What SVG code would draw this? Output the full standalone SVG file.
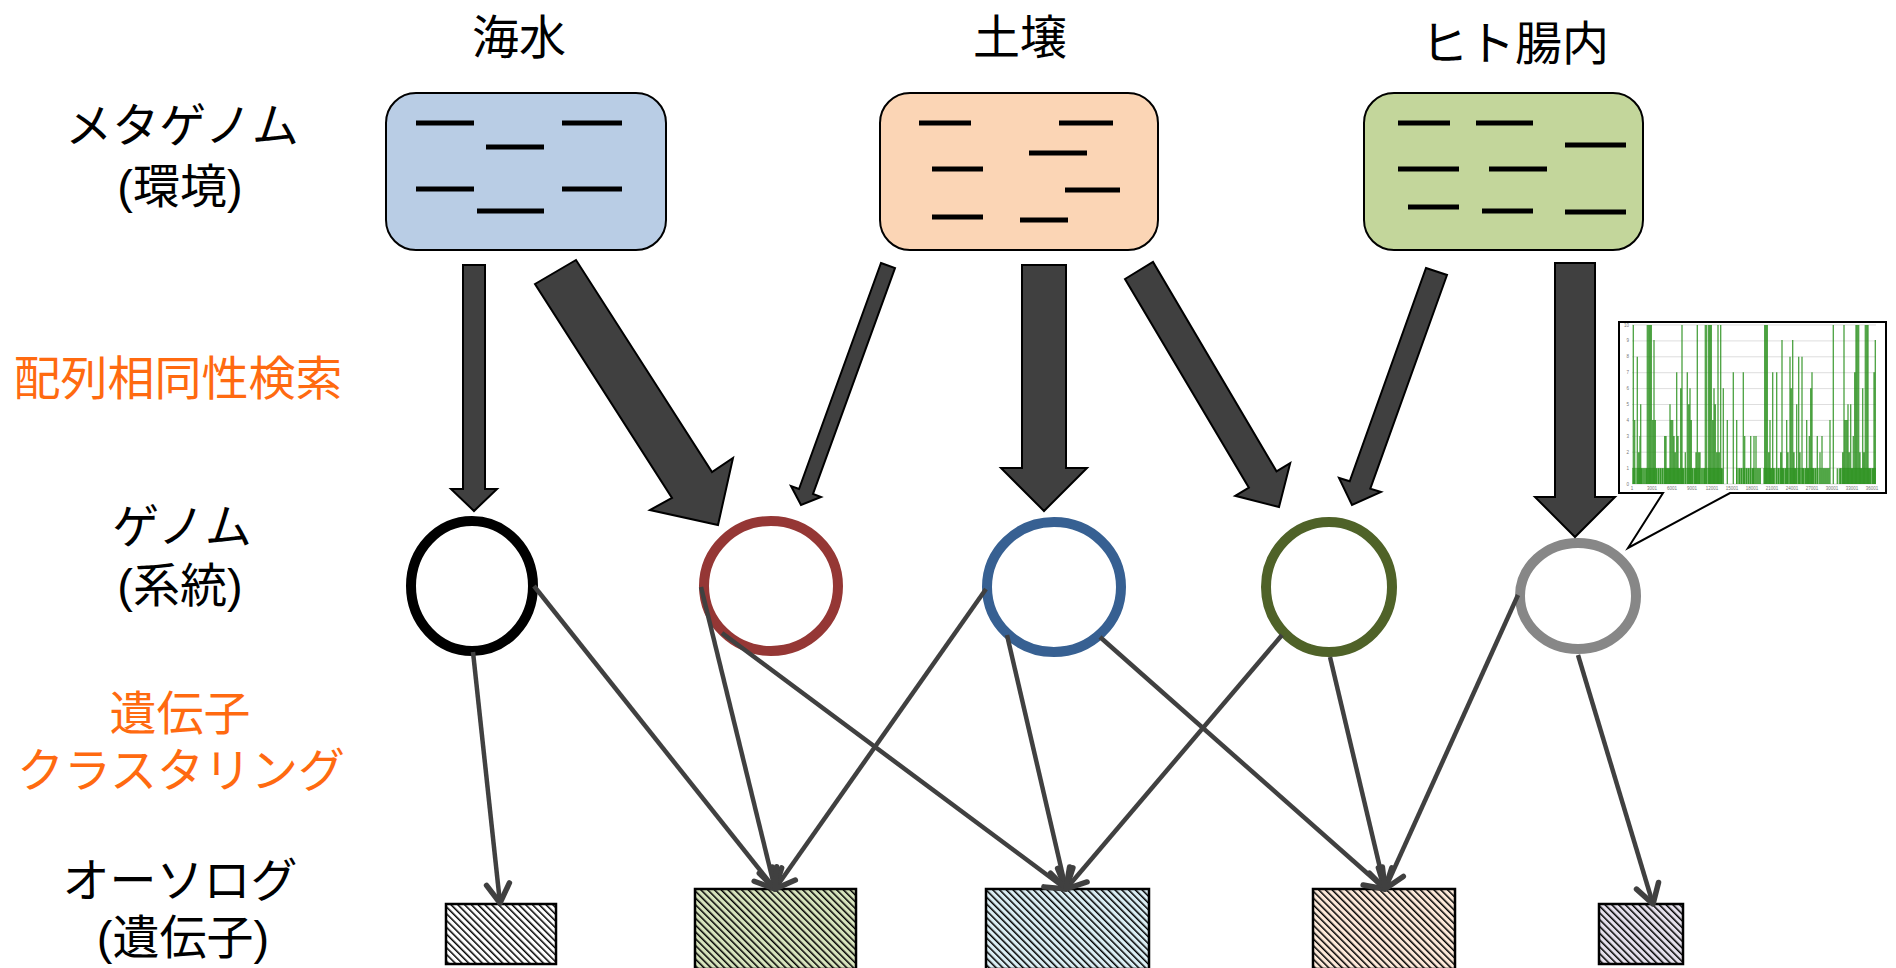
<svg xmlns="http://www.w3.org/2000/svg" width="1896" height="968" viewBox="0 0 1896 968">
  <style>
    .lbl { font-family: "Liberation Sans", "Noto Sans CJK JP", sans-serif; font-size: 47px; fill: #000; text-anchor: middle; }
    .step { fill: #ff6a10; }
    .env { stroke: #000; stroke-width: 2; }
    .seq { stroke: #000; stroke-width: 5; }
    .genome { fill: #fff; stroke-width: 10; }
    .block { fill: #404040; stroke: #000; stroke-width: 2; stroke-linejoin: miter; }
    .link { fill: none; stroke: #404040; stroke-width: 4.5; marker-end: url(#head); }
    .og { stroke: #000; stroke-width: 2.5; }
    .grid { stroke: #d0d0d0; stroke-width: 0.7; }
    .tick { font-family: "Liberation Sans", sans-serif; font-size: 4.5px; fill: #777; }
  </style>
  <defs>
    <marker id="head" markerUnits="userSpaceOnUse" viewBox="-24 -15 28 30" markerWidth="28" markerHeight="30" refX="0" refY="0" orient="auto">
      <path d="M-19,-11.5 L0,0 L-19,11.5" fill="none" stroke="#404040" stroke-width="5.5" stroke-linecap="round" stroke-linejoin="round"/>
    </marker>
    <!-- diagonal hatch fills for ortholog boxes -->
    <pattern id="h-white" patternUnits="userSpaceOnUse" width="4.8" height="4.8" patternTransform="rotate(-45)">
      <rect width="4.8" height="4.8" fill="#ffffff"/><rect width="1.5" height="4.8" fill="#000"/>
    </pattern>
    <pattern id="h-green" patternUnits="userSpaceOnUse" width="4.8" height="4.8" patternTransform="rotate(-45)">
      <rect width="4.8" height="4.8" fill="#d7e4bd"/><rect width="1.5" height="4.8" fill="#000"/>
    </pattern>
    <pattern id="h-blue" patternUnits="userSpaceOnUse" width="4.8" height="4.8" patternTransform="rotate(-45)">
      <rect width="4.8" height="4.8" fill="#dbeef4"/><rect width="1.5" height="4.8" fill="#000"/>
    </pattern>
    <pattern id="h-peach" patternUnits="userSpaceOnUse" width="4.8" height="4.8" patternTransform="rotate(-45)">
      <rect width="4.8" height="4.8" fill="#fde9d9"/><rect width="1.5" height="4.8" fill="#000"/>
    </pattern>
    <pattern id="h-lav" patternUnits="userSpaceOnUse" width="4.8" height="4.8" patternTransform="rotate(-45)">
      <rect width="4.8" height="4.8" fill="#e5e0ec"/><rect width="1.5" height="4.8" fill="#000"/>
    </pattern>
  </defs>

  <rect width="1896" height="968" fill="#fff"/>

  <!-- row labels -->
  <g id="row-labels">
    <text class="lbl" x="182" y="142">メタゲノム<tspan x="180" dy="61">(環境)</tspan></text>
    <text class="lbl step" x="178" y="395">配列相同性検索</text>
    <text class="lbl" x="182" y="543">ゲノム<tspan x="180" dy="59">(系統)</tspan></text>
    <text class="lbl step" x="180" y="730">遺伝子<tspan x="181" dy="57">クラスタリング</tspan></text>
    <text class="lbl" x="180" y="897">オーソログ<tspan x="183" dy="57">(遺伝子)</tspan></text>
  </g>

  <!-- environments (metagenomes) -->
  <g id="env-seawater">
    <text class="lbl" x="519" y="54">海水</text>
    <rect class="env" x="386" y="93" width="280" height="157" rx="30" fill="#b9cde5"/>
    <path class="seq" d="M416,123H474M562,123H622M486,147H544M416,189H474M562,189H622M477,211H544"/>
  </g>
  <g id="env-soil">
    <text class="lbl" x="1020" y="54">土壌</text>
    <rect class="env" x="880" y="93" width="278" height="157" rx="30" fill="#fbd5b5"/>
    <path class="seq" d="M919,123H971M1059,123H1113M1029,153H1087M932,169H983M1065,190H1120M932,217H983M1020,220H1068"/>
  </g>
  <g id="env-gut">
    <text class="lbl" x="1515" y="60">ヒト腸内</text>
    <rect class="env" x="1364" y="93" width="279" height="157" rx="30" fill="#c3d69b"/>
    <path class="seq" d="M1398,123H1450M1476,123H1533M1565,145H1626M1398,169H1459M1489,169H1547M1408,207H1459M1482,211H1533M1565,212H1626"/>
  </g>

  <!-- genomes -->
  <g id="genome-1"><ellipse class="genome" cx="472" cy="586" rx="61" ry="65" stroke="#000"/></g>
  <g id="genome-2"><ellipse class="genome" cx="771" cy="586" rx="67" ry="65" stroke="#953735"/></g>
  <g id="genome-3"><ellipse class="genome" cx="1054" cy="587" rx="67" ry="65" stroke="#376092"/></g>
  <g id="genome-4"><ellipse class="genome" cx="1329" cy="587" rx="63" ry="65" stroke="#4f6228"/></g>
  <g id="genome-5"><ellipse class="genome" cx="1578" cy="596" rx="58" ry="53" stroke="#878787"/></g>

  <!-- orthologous gene groups -->
  <g id="ortholog-1"><rect class="og" x="446" y="904" width="110" height="60" fill="url(#h-white)"/></g>
  <g id="ortholog-2"><rect class="og" x="695" y="889" width="161" height="80" fill="url(#h-green)"/></g>
  <g id="ortholog-3"><rect class="og" x="986" y="889" width="163" height="80" fill="url(#h-blue)"/></g>
  <g id="ortholog-4"><rect class="og" x="1313" y="889" width="142" height="80" fill="url(#h-peach)"/></g>
  <g id="ortholog-5"><rect class="og" x="1599" y="904" width="84" height="60" fill="url(#h-lav)"/></g>

  <!-- coverage plot callout for the gut genome -->
  <g id="coverage-callout">
    <path d="M1619,322H1886V493H1730L1628,548L1663,493H1619Z" fill="#fff" stroke="#000" stroke-width="2"/>
    <path class="grid" d="M1632,325H1876M1632,340.9H1876M1632,356.8H1876M1632,372.7H1876M1632,388.6H1876M1632,404.5H1876M1632,420.4H1876M1632,436.3H1876M1632,452.2H1876M1632,468.1H1876M1632,484H1876"/>
    <g fill="#2e9a1e" opacity="0.55">
      <rect x="1632" y="468" width="90" height="16"/>
      <rect x="1736" y="468" width="25" height="16"/>
      <rect x="1763" y="468" width="67" height="16"/>
      <rect x="1840" y="468" width="36" height="16"/>
    </g>
    <path fill="none" stroke="#1e8a10" stroke-width="1.3" opacity="0.8" d="M1633.3,484V325M1634.7,484V420M1637.3,484V356.7M1638.7,484V452.3M1640,484V436M1640.7,484V404.3M1642,484V468.3M1644,484V468.3M1646,484V468.3M1647.3,484V325M1648.7,484V325M1650,484V325M1651.3,484V325M1652.7,484V420M1654,484V340M1655.3,484V420M1656.7,484V468.3M1658.7,484V468.3M1660.7,484V468.3M1662.7,484V468.3M1664.7,484V436M1666,484V436M1667.3,484V468.3M1668.7,484V468.3M1670,484V404.3M1671.3,484V420M1672.7,484V420M1674,484V436M1675.3,484V452.3M1676.7,484V372.3M1678,484V436M1679.3,484V468.3M1680.7,484V388.3M1682,484V325M1683.3,484V468.3M1685.3,484V452.3M1687.3,484V372.3M1688.7,484V404.3M1690,484V388.3M1691.3,484V420M1692.7,484V468.3M1694.7,484V468.3M1696,484V452.3M1697.3,484V325M1698.7,484V452.3M1700,484V452.3M1702,484V468.3M1704,484V468.3M1705.3,484V325M1706.7,484V325M1708.7,484V325M1710,484V325M1711.3,484V325M1712.7,484V420M1714,484V388.3M1715.3,484V404.3M1716.7,484V452.3M1718,484V325M1719.3,484V452.3M1720.7,484V325M1722,484V468.3M1723.3,484V388.3M1727.3,484V420M1733.3,484V372.3M1736.7,484V420M1739.3,484V468.3M1741.3,484V468.3M1743.3,484V372.3M1744.7,484V436M1746.7,484V468.3M1748.7,484V468.3M1750.7,484V436M1752.7,484V468.3M1754,484V436M1756,484V436M1758,484V468.3M1760,484V468.3M1764.7,484V325M1766,484V325M1767.3,484V325M1768.7,484V452.3M1770,484V420M1771.3,484V468.3M1772.7,484V372.3M1774,484V468.3M1776.7,484V372.3M1778.7,484V468.3M1780.7,484V452.3M1782,484V340M1783.3,484V468.3M1785.3,484V468.3M1786.7,484V420M1788,484V452.3M1790,484V356.7M1791.3,484V388.3M1792.7,484V340M1794,484V452.3M1795.3,484V468.3M1796.7,484V404.3M1798.7,484V356.7M1800,484V452.3M1802,484V356.7M1803.3,484V468.3M1805.3,484V468.3M1806.7,484V420M1808,484V468.3M1809.3,484V436M1810.7,484V388.3M1812,484V372.3M1813.3,484V468.3M1815.3,484V468.3M1817.3,484V436M1820,484V452.3M1822,484V436M1824,484V468.3M1826,484V468.3M1828,484V468.3M1830,484V420M1833.3,484V325M1837.3,484V468.3M1839.3,484V468.3M1840.7,484V468.3M1842.7,484V452.3M1844,484V325M1845.3,484V420M1846.7,484V420M1848,484V404.3M1849.3,484V452.3M1850.7,484V404.3M1852,484V468.3M1853.3,484V436M1854.7,484V372.3M1856,484V325M1857.3,484V325M1858.7,484V325M1860,484V452.3M1861.3,484V468.3M1862.7,484V388.3M1864,484V452.3M1865.3,484V325M1866.7,484V325M1868,484V325M1869.3,484V468.3M1870.7,484V468.3M1872.7,484V468.3M1874,484V372.3M1875.3,484V340"/>
    <g class="tick" text-anchor="end">
      <text x="1629" y="486">0</text><text x="1629" y="470">1</text><text x="1629" y="454">2</text><text x="1629" y="438">3</text>
      <text x="1629" y="422">4</text><text x="1629" y="406">5</text><text x="1629" y="390">6</text><text x="1629" y="374">7</text>
      <text x="1629" y="358">8</text><text x="1629" y="342">9</text><text x="1629" y="327">10</text>
    </g>
    <g class="tick" text-anchor="middle">
      <text x="1632" y="490">1</text><text x="1652" y="490">3001</text><text x="1672" y="490">6001</text><text x="1692" y="490">9001</text>
      <text x="1712" y="490">12001</text><text x="1732" y="490">15001</text><text x="1752" y="490">18001</text><text x="1772" y="490">21001</text>
      <text x="1792" y="490">24001</text><text x="1812" y="490">27001</text><text x="1832" y="490">30001</text><text x="1852" y="490">33001</text>
      <text x="1872" y="490">36001</text>
    </g>
  </g>

  <!-- connectors -->
  <g id="connectors">
    <!-- homology search: metagenome reads assigned to genomes -->
    <polygon class="block" points="463,265 485,265 485,489 497,489 474,511 451,489 463,489"/>
    <polygon class="block" points="535,284 576,260 712,472 733,458 718,525 650,510 672,498"/>
    <polygon class="block" points="881,263 895,268 813,494 821,497 801,505 791,486 799,489"/>
    <polygon class="block" points="1022,265 1066,265 1066,468 1087,468 1044,511 1001,468 1022,468"/>
    <polygon class="block" points="1125,279 1153,262 1276.5,471.3 1290.2,463.2 1279,507 1235.2,495.8 1248.9,487.7"/>
    <polygon class="block" points="1426,268 1447,275 1370.3,488.7 1381,492 1352,505 1339,478 1349.7,481.3"/>
    <polygon class="block" points="1555,263 1595,263 1595,497 1615,497 1575,537 1535,497 1555,497"/>
    <!-- gene clustering: genomes to ortholog groups -->
    <line class="link" x1="473" y1="652" x2="500" y2="903"/>
    <line class="link" x1="534" y1="586" x2="775" y2="889"/>
    <line class="link" x1="701" y1="587" x2="775" y2="889"/>
    <line class="link" x1="722" y1="633" x2="1066" y2="889"/>
    <line class="link" x1="986" y1="589" x2="775" y2="889"/>
    <line class="link" x1="1007" y1="635" x2="1066" y2="889"/>
    <line class="link" x1="1100" y1="637" x2="1385" y2="889"/>
    <line class="link" x1="1282" y1="635" x2="1066" y2="889"/>
    <line class="link" x1="1330" y1="657" x2="1385" y2="889"/>
    <line class="link" x1="1518" y1="595" x2="1385" y2="889"/>
    <line class="link" x1="1578" y1="655" x2="1653" y2="904"/>
  </g>
</svg>
